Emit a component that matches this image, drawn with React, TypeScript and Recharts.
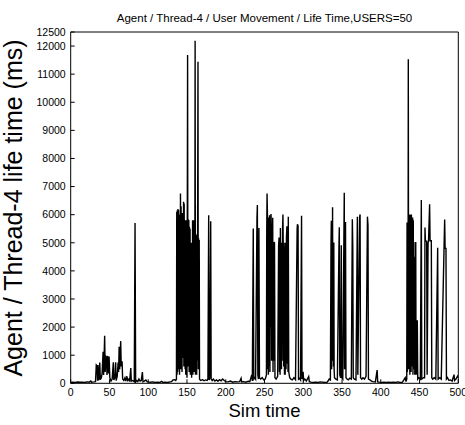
import React from "react";
import { LineChart, Line, XAxis, YAxis } from "recharts";

// [sim time, Agent / Thread-4 life time (ms)], region by region
const quietStart: [number, number][] = [
  [0, 30], [3, 40], [6, 30], [9, 45], [12, 35], [15, 40], [18, 30], [21, 50], [24, 40], [26, 80], [27, 40], [30, 50], [32, 60],
];
const burst1: [number, number][] = [
  [33, 650], [34, 620], [34.6, 90], [35.2, 650], [35.8, 110], [36.5, 150], [37.5, 740], [38.2, 130], [39.5, 200],
  [40.5, 350], [41.8, 1120], [42.5, 300], [43.8, 1690], [44.5, 400], [45.5, 950], [46.3, 920], [46.8, 300],
  [47.5, 950], [48.3, 940], [48.8, 350], [49.5, 950], [50.5, 200], [52, 80], [53.5, 150], [55, 750], [55.6, 120],
  [57, 200], [58, 750], [58.6, 100], [60, 250], [61.2, 740], [61.8, 400], [62.5, 1300], [63.2, 500], [64.5, 1500],
  [65.2, 600], [66.3, 780], [67, 150], [68.5, 100], [70, 200], [71, 80], [72.5, 250], [73.5, 100], [75, 150],
  [76, 60], [77.5, 540], [78.2, 80], [80, 100], [82, 60], [83, 5700], [83.8, 50], [85, 100], [86.5, 60], [88, 150],
  [89.5, 80], [91, 100], [92.5, 400], [93.2, 60], [95, 80], [97, 120], [98.5, 60],
];
const quiet2: [number, number][] = [
  [100, 50], [103, 40], [106, 50], [109, 30], [112, 40], [115, 30], [117.5, 70], [119, 30], [122, 40], [125, 30],
  [128, 50], [130, 60], [132, 120], [134, 130], [135.5, 100],
];
const burst2: [number, number][] = [
  [136.4, 150], [136.8, 6100], [137.2, 300], [137.6, 6160], [138.0, 400], [138.4, 6200], [138.8, 500], [139.2, 6160],
  [139.6, 700], [140.0, 5900], [140.4, 300], [140.8, 6000], [141.2, 600], [141.6, 6750], [142.0, 500], [142.4, 6300],
  [142.8, 800], [143.2, 6000], [143.6, 400], [144.0, 6060], [144.4, 900], [144.8, 5900], [145.2, 2000], [145.6, 6460],
  [146.0, 600], [146.4, 6400], [146.8, 1000], [147.2, 5800], [147.6, 500], [148.0, 5700], [148.4, 300], [148.8, 5800],
  [149.2, 3000], [149.6, 5600], [150.0, 200], [150.4, 5800], [150.8, 11680], [151.2, 600], [151.6, 5840], [152.0, 800],
  [152.4, 5800], [152.8, 400], [153.2, 5570], [153.6, 700], [154.0, 5500], [154.4, 300], [154.8, 5000], [155.2, 1000],
  [155.6, 5000], [156.0, 200], [156.4, 5000], [156.8, 500], [157.2, 5800], [157.6, 300], [158.0, 5750], [158.4, 900],
  [158.8, 5800], [159.2, 400], [159.6, 5700], [160.0, 600], [160.5, 12190], [160.9, 300], [161.3, 5270], [161.7, 600],
  [162.1, 5250], [162.5, 300], [162.9, 5300], [163.3, 800], [163.7, 5200], [164.2, 11440], [164.6, 500], [165.0, 5160],
  [165.4, 700], [165.8, 5100], [166.2, 150], [167, 120],
  [168, 100], [170, 130], [172, 90], [174, 120], [176, 100], [177, 150], [178, 5980], [178.6, 120], [179.5, 200],
  [180.6, 5770], [181.2, 150], [182.5, 100], [184, 150], [186, 80],
];
const quiet3: [number, number][] = [
  [188, 120], [190, 70], [192, 130], [194, 90], [196, 150], [198, 100], [200, 60], [203, 50], [206, 80], [209, 40],
  [212, 60], [215, 50], [218, 60], [219.8, 180], [220.5, 50], [223, 60], [226, 40], [229, 70], [231, 60],
];
const burst3: [number, number][] = [
  [233.5, 300], [234.3, 80], [235.5, 5510], [236.2, 150], [237.5, 200], [238.5, 150], [240.3, 5900], [240.8, 6340],
  [241.4, 300], [242.2, 150], [242.8, 5530], [243.5, 200], [245, 150], [247, 200], [249, 120], [251, 150], [252.5, 300],
  [252.9, 5500], [253.3, 6750], [253.8, 6000], [254.2, 500], [254.6, 5800], [255.0, 300], [255.5, 5900], [256.0, 600],
  [256.5, 5980], [257.0, 400], [257.5, 5700], [257.9, 2000], [258.4, 6020], [258.8, 5600], [259.2, 800], [259.6, 5500],
  [260.0, 1500], [260.6, 5890], [261.0, 400], [261.5, 5000], [261.9, 800], [262.4, 5030], [262.9, 5000], [263.5, 200],
  [265, 150], [267, 250], [268.2, 4900], [268.8, 5190], [269.2, 400], [269.7, 5100], [270.1, 300], [270.5, 5530],
  [271.0, 1200], [271.5, 5000], [271.9, 500], [272.3, 4970], [272.8, 800], [273.3, 5500], [273.8, 6010], [274.3, 4500],
  [274.8, 600], [275.3, 5000], [275.8, 300], [276.2, 4860], [276.7, 300], [277.3, 5000], [277.8, 500], [278.3, 5200],
  [278.9, 5590], [279.4, 700], [279.9, 5500], [280.3, 400], [280.7, 5930], [281.3, 400], [282.5, 200], [284, 150],
  [286, 120], [288, 200], [290, 130], [292.1, 5500], [292.5, 5660], [293.3, 5600], [293.9, 150], [295, 180],
  [296.5, 120], [297.8, 5960], [298.4, 150], [299.8, 410], [300.5, 100], [302, 150], [304, 80], [307, 240], [307.8, 60],
];
const quiet4: [number, number][] = [
  [310, 40], [313, 30], [316, 40], [319, 30], [322, 50], [325, 40], [328, 30], [331, 40],
];
const burst4: [number, number][] = [
  [333.5, 150], [335, 120], [335.8, 5000], [336.2, 5780], [336.6, 500], [337.0, 5500], [337.4, 800], [337.8, 6260],
  [338.2, 1000], [338.6, 5000], [339.0, 600], [339.4, 5010], [339.8, 500], [340.3, 200], [342, 150], [344, 120],
  [346.1, 5000], [346.5, 5550], [347.1, 300], [348.2, 200], [349.1, 4910], [349.7, 200], [351, 150], [352.5, 5500],
  [352.9, 6780], [353.3, 500], [353.7, 5740], [354.1, 800], [354.5, 5740], [355.1, 200], [356.5, 150], [358, 120],
  [360, 180], [362, 150], [363.3, 5840], [363.9, 4830], [364.5, 200], [366, 150], [368, 120], [369.8, 5930],
  [370.4, 300], [372.7, 5900], [373.3, 6010], [373.9, 200], [375.5, 150], [377, 200], [379, 150], [381, 250],
  [382.8, 5930], [383.5, 5630], [384.1, 150], [386, 120],
];
const quiet5: [number, number][] = [
  [388, 80], [390, 60], [393, 50], [395.3, 470], [396, 50], [398, 40], [401, 30], [404, 40], [407, 30], [410, 40],
  [413, 30], [416, 40], [419, 30], [422, 50], [425, 30], [428, 40], [431.5, 200], [432.5, 60],
];
const burst5: [number, number][] = [
  [433.5, 150], [433.9, 5720], [434.3, 400], [434.7, 5700], [435.1, 600], [435.5, 11530], [435.9, 500], [436.3, 5900],
  [436.7, 800], [437.1, 6000], [437.5, 300], [437.9, 6010], [438.3, 1000], [438.7, 5900], [439.1, 400], [439.5, 6010],
  [439.9, 2000], [440.3, 5900], [440.7, 600], [441.1, 5900], [441.5, 300], [441.9, 5800], [442.3, 3000], [442.7, 5030],
  [443.1, 500], [443.5, 4500], [443.9, 300], [444.3, 2500], [444.7, 600], [445.1, 5030], [445.5, 300], [446.0, 2240],
  [446.5, 300], [447.1, 2240], [447.7, 150], [449, 200], [451, 150], [452.3, 6520], [452.9, 150], [455, 200],
  [456.5, 200], [457, 5540], [457.6, 5060], [459.2, 5060], [459.8, 300], [461, 5000], [461.6, 5060], [463, 6370],
  [463.6, 5070], [465.2, 5070], [465.8, 200], [467, 150], [469, 200], [471, 150], [473.4, 4820], [474, 150],
  [476, 200], [478, 150], [482.4, 5830], [483, 4800], [484.1, 4800], [484.7, 150], [486, 200], [488, 100],
  [490, 120], [492, 80], [494.5, 310], [495.2, 100], [497, 150], [499, 250], [500, 200],
];

const xTicks: number[] = [0, 50, 100, 150, 200, 250, 300, 350, 400, 450, 500];
const yTicks: number[] = [0, 1000, 2000, 3000, 4000, 5000, 6000, 7000, 8000, 9000, 10000, 11000, 12000, 12500];

const title = "Agent / Thread-4 / User Movement / Life Time,USERS=50";
const xLabel = "Sim time";
const yLabel = "Agent / Thread-4 life time (ms)";

const data = [...quietStart, ...burst1, ...quiet2, ...burst2, ...quiet3, ...burst3, ...quiet4, ...burst4, ...quiet5, ...burst5]
  .map(([t, v]) => ({ t, v }));

const FONT = "'Liberation Sans', Arial, Helvetica, sans-serif";
const W = 465;
const H = 425;
// plot box: x 70.7..458.3, y 32..383.3 (axes take 1px each)
const M = { top: 31, right: 5.7, bottom: 40.7, left: 69.7 };

export default function App() {
  const tickStyle = { fill: "#000", fontSize: 10.5, fontFamily: FONT };
  return (
    <div style={{ position: "absolute", left: 0, top: 0, width: W, height: H, background: "#fff", fontFamily: FONT }}>
      <LineChart width={W} height={H} data={data} margin={M}>
        <XAxis
          xAxisId="b"
          dataKey="t"
          type="number"
          domain={[0, 500]}
          ticks={xTicks}
          interval={0}
          height={1}
          orientation="bottom"
          stroke="#000"
          tickSize={-4}
          tickMargin={9}
          tick={tickStyle}
          allowDataOverflow
        />
        <XAxis
          xAxisId="t"
          dataKey="t"
          type="number"
          domain={[0, 500]}
          ticks={xTicks}
          interval={0}
          height={1}
          orientation="top"
          stroke="#000"
          tickSize={-4}
          tick={false}
        />
        <YAxis
          yAxisId="l"
          type="number"
          domain={[0, 12500]}
          ticks={yTicks}
          interval={0}
          width={1}
          orientation="left"
          stroke="#000"
          tickSize={-4}
          tickMargin={9}
          tick={tickStyle}
          allowDataOverflow
        />
        <YAxis
          yAxisId="r"
          type="number"
          domain={[0, 12500]}
          ticks={yTicks}
          interval={0}
          width={1}
          orientation="right"
          stroke="#000"
          tickSize={-4}
          tick={false}
        />
        <Line
          xAxisId="b"
          yAxisId="l"
          dataKey="v"
          type="linear"
          stroke="#000"
          strokeWidth={1.4}
          dot={false}
          activeDot={false}
          isAnimationActive={false}
        />
      </LineChart>
      <div style={{ position: "absolute", left: 0, width: W, top: 11, textAlign: "center", paddingLeft: 64, boxSizing: "border-box", fontSize: 11.5, lineHeight: "14px", color: "#000", whiteSpace: "nowrap" }}>
        {title}
      </div>
      <div style={{ position: "absolute", left: 70.7, width: 387.6, top: 400, textAlign: "center", fontSize: 18.5, lineHeight: "22px", color: "#000" }}>
        {xLabel}
      </div>
      <div style={{ position: "absolute", left: 13, top: 207.5, width: 0, height: 0 }}>
        <div style={{ position: "absolute", transform: "translate(-50%, -50%) rotate(-90deg)", fontSize: 25, lineHeight: "28px", whiteSpace: "nowrap", color: "#000" }}>
          {yLabel}
        </div>
      </div>
    </div>
  );
}
